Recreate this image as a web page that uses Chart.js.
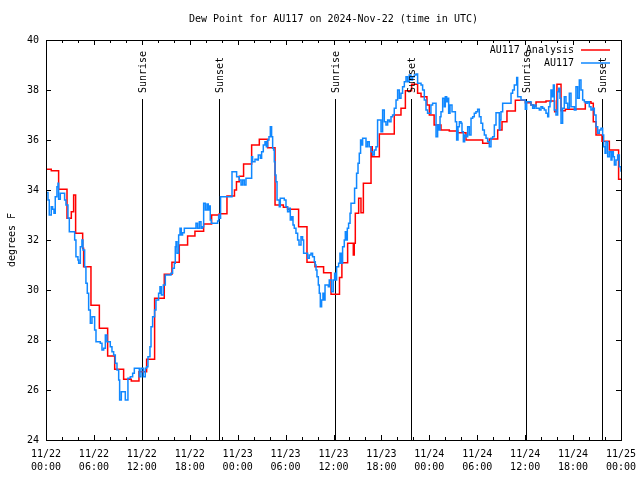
<!DOCTYPE html>
<html>
<head>
<meta charset="utf-8">
<title>Dew Point for AU117</title>
<script src="https://cdn.jsdelivr.net/npm/chart.js@4.4.1/dist/chart.umd.min.js"></script>
<style>
  html, body { margin: 0; padding: 0; background: #fff; }
</style>
</head>
<body>
<canvas id="dewChart" width="640" height="480"></canvas>
<script>
// Horas desde 11/22 00:00 UTC y punto de rocio (F) del analisis
const analysisHours = [0, 0.66, 1.58, 2.63, 3.17, 3.46, 3.71, 4.59, 4.71, 5.63, 6.68, 7.72, 8.6, 9.72, 10.68, 11.64,
  12.6, 13.6, 14.81, 15.77, 16.69, 17.73, 18.65, 19.74, 20.74, 21.7, 22.66, 23.6, 23.85, 24.2, 24.74, 25.75,
  26.71, 27.75, 28.68, 29.72, 30.25, 31.63, 32.68, 33.68, 34.76, 35.69, 36.75, 37.05, 37.77, 38.48, 38.6,
  38.73, 39.15, 39.44, 39.74, 40.7, 40.85, 41.74, 43.61, 44.45, 45.0, 45.78, 46.53, 46.96, 47.7, 48.0, 48.6,
  49.46, 50.5, 51.55, 52.59, 54.68, 55.51, 56.56, 57.1, 57.72, 58.77, 60.02, 60.73, 61.02, 61.36, 62.61,
  63.69, 63.98, 64.49, 65.03, 66.36, 67.53, 68.24, 68.53, 68.87, 69.62, 70.54, 71.7, 72];
const analysisDew = [34.83, 34.77, 34.03, 32.87, 33.13, 33.8, 32.27, 31.67, 30.93, 29.39, 28.47, 27.36, 26.83, 26.43, 26.36, 26.73,
  27.23, 29.67, 30.63, 31.11, 31.8, 32.16, 32.35, 32.64, 33.0, 33.05, 33.76, 34.0, 34.33, 34.55, 35.04, 35.8,
  36.03, 35.69, 33.4, 33.31, 33.23, 32.53, 31.11, 30.93, 30.69, 29.83, 30.5, 31.09, 31.87, 31.4, 31.87,
  33.07, 33.67, 33.09, 34.27, 35.73, 35.33, 36.24, 37.0, 37.27, 37.97, 38.23, 37.87, 37.73, 37.4, 37.0, 36.6,
  36.4, 36.36, 36.29, 36.0, 35.87, 36.04, 36.4, 36.73, 37.16, 37.59, 37.49, 37.4, 37.36, 37.52, 37.56,
  37.13, 38.23, 37.17, 37.23, 37.24, 37.53, 37.47, 36.73, 36.2, 35.95, 35.6, 34.43, 34.43];

// Observaciones de la estacion AU117
const obsHours = [0, 0.25, 0.41, 0.66, 0.83, 1.0, 1.16, 1.37, 1.5, 1.58, 1.79, 2.33, 2.5, 2.75, 2.92, 3.59, 3.75, 4.0, 4.09,
  4.3, 4.5, 4.63, 4.84, 5.0, 5.17, 5.34, 5.55, 5.76, 6.09, 6.26, 6.8, 7.01, 7.22, 7.43, 7.63, 8.05, 8.26, 8.47,
  8.68, 8.89, 9.1, 9.22, 9.43, 9.93, 10.26, 10.56, 10.85, 11.06, 11.68, 11.89, 12.18, 12.43, 12.6, 12.77, 13.02,
  13.15, 13.35, 13.6, 13.77, 14.1, 14.27, 14.44, 14.69, 14.94, 15.65, 15.85, 16.07, 16.19, 16.28, 16.4, 16.61,
  16.78, 16.94, 17.1, 17.32, 18.78, 18.98, 19.2, 19.41, 19.6, 19.74, 19.95, 20.16, 20.32, 20.45, 20.57, 20.7,
  21.49, 21.62, 21.7, 21.86, 23.29, 23.87, 24.2, 24.42, 24.62, 24.83, 25.04, 25.75, 25.87, 26.17, 26.42, 26.58,
  26.84, 27.0, 27.21, 27.42, 27.59, 27.75, 27.92, 28.09, 28.25, 28.38, 28.5, 28.59, 28.68, 28.8, 28.93, 29.21,
  29.34, 29.84, 30.05, 30.25, 30.47, 30.59, 30.76, 30.93, 31.09, 31.3, 31.51, 31.68, 31.93, 32.13, 32.26, 32.76,
  32.97, 33.18, 33.38, 33.6, 33.72, 33.81, 33.93, 34.1, 34.22, 34.35, 34.51, 34.68, 34.85, 34.94, 35.35, 35.47,
  35.76, 35.98, 36.14, 36.31, 36.39, 36.64, 36.81, 36.98, 37.14, 37.35, 37.48, 37.57, 37.73, 37.89, 38.07, 38.19,
  38.64, 38.89, 39.07, 39.23, 39.39, 39.57, 39.65, 40.07, 40.27, 40.48, 40.7, 40.9, 41.11, 41.32, 41.52, 41.95,
  42.15, 42.36, 42.57, 42.78, 42.99, 43.2, 43.4, 43.61, 43.83, 44.03, 44.24, 44.45, 44.65, 44.87, 45.08, 45.28,
  45.49, 45.7, 45.9, 46.12, 46.33, 46.53, 46.96, 47.16, 47.37, 47.58, 47.78, 48.2, 48.41, 48.84, 49.04, 49.17,
  49.34, 49.46, 49.67, 49.88, 50.0, 50.17, 50.3, 50.42, 50.59, 50.84, 51.26, 51.42, 51.59, 51.76, 51.97, 52.09,
  52.26, 52.42, 52.59, 52.8, 53.01, 53.22, 53.43, 53.63, 53.84, 54.05, 54.26, 54.47, 54.68, 54.89, 55.1, 55.3,
  55.51, 55.72, 55.93, 56.14, 56.35, 56.76, 56.85, 56.97, 57.18, 58.23, 58.43, 58.64, 58.94, 59.06, 59.48,
  60.02, 60.19, 60.73, 60.94, 61.15, 61.36, 61.77, 61.98, 62.19, 62.4, 62.61, 62.82, 62.94, 63.11, 63.23, 63.36,
  63.53, 63.65, 63.86, 64.07, 64.19, 64.36, 64.49, 64.69, 64.9, 65.11, 65.32, 65.53, 65.74, 66.16, 66.36, 66.57,
  66.78, 66.99, 67.2, 67.41, 67.62, 67.82, 68.03, 68.24, 68.45, 68.66, 68.87, 69.08, 69.29, 69.49, 69.7, 69.83,
  70.0, 70.12, 70.33, 70.54, 70.75, 70.87, 71.04, 71.17, 71.37, 71.58, 71.79, 72.0];
const obsDew = [33.9, 33.6, 33.0, 33.33, 33.23, 33.07, 33.73, 34.13, 34.27, 33.63, 33.87, 33.6, 33.4, 32.87, 32.33, 32.0, 31.33, 31.2, 31.07,
  31.73, 32.0, 31.6, 30.93, 30.27, 29.87, 29.2, 28.67, 28.93, 28.4, 27.93, 27.87, 27.6, 27.67, 28.2, 27.93, 27.73, 27.53, 27.4,
  27.07, 26.8, 26.4, 25.6, 25.93, 25.6, 26.47, 26.53, 26.67, 26.87, 26.53, 26.87, 26.53, 26.87, 26.93, 27.33, 27.73,
  28.53, 28.93, 29.2, 29.6, 29.87, 30.13, 29.8, 30.2, 30.6, 30.67, 30.87, 31.07, 31.73, 31.93, 31.47, 32.2,
  32.47, 32.2, 32.29, 32.47, 32.67, 32.47, 32.73, 32.47, 32.53, 33.47, 33.2, 33.44, 33.2, 33.36, 32.8, 32.67,
  32.76, 33.0, 32.87, 33.73, 34.73, 34.53, 34.4, 34.2, 34.4, 34.2, 34.47, 35.33, 35.13, 35.23, 35.2, 35.4,
  35.27, 35.53, 35.8, 35.93, 35.73, 36.0, 36.13, 36.53, 36.13, 35.67, 35.6, 35.13, 34.6, 34.33, 33.6, 33.33,
  33.67, 33.6, 33.33, 33.13, 33.27, 32.8, 32.93, 32.6, 32.47, 32.27, 32.0, 31.8, 32.13, 32.0, 31.47, 31.27,
  31.4, 31.47, 31.33, 31.13, 31.0, 30.8, 30.53, 30.2, 29.87, 29.33, 29.6, 29.87, 29.6, 30.2, 30.13, 30.4,
  29.93, 30.4, 30.67, 30.4, 30.93, 31.07, 31.47, 31.07, 31.73, 32.0, 32.33, 32.0, 32.47, 32.67, 33.07, 33.47,
  34.07, 34.67, 35.07, 35.47, 36.0, 35.8, 36.07, 35.73, 35.93, 35.73, 35.53, 35.4, 35.6, 35.73, 36.8, 36.33,
  37.2, 36.73, 36.6, 36.8, 36.73, 36.93, 37.0, 37.27, 37.6, 38.0, 37.67, 37.87, 38.13, 38.33, 38.53, 38.33,
  38.6, 38.4, 38.53, 38.6, 38.64, 38.27, 38.2, 38.0, 37.6, 37.2, 37.07, 37.4, 37.47, 36.13, 36.6, 36.4,
  36.93, 37.13, 37.67, 37.33, 37.73, 37.53, 37.67, 37.07, 37.4, 37.13, 36.73, 36.0, 36.53, 36.73, 36.67, 36.33,
  35.93, 36.2, 36.13, 36.53, 36.2, 36.87, 36.93, 37.07, 37.13, 37.23, 36.93, 36.67, 36.4, 36.2, 36.07, 35.93,
  35.73, 36.07, 36.13, 36.6, 37.09, 36.4, 36.8, 37.13, 37.47, 37.87, 38.0, 38.2, 38.5, 37.73, 37.6,
  37.23, 37.53, 37.4, 37.27, 37.4, 37.27, 37.2, 37.33, 37.27, 37.2, 37.07, 36.93, 37.33, 37.53, 38.0, 37.73,
  38.2, 37.2, 37.0, 37.93, 38.07, 37.67, 36.67, 37.27, 37.73, 37.47, 37.27, 37.87, 37.33, 37.2, 38.13, 37.67,
  38.4, 38.0, 37.6, 37.53, 37.47, 37.53, 37.33, 37.2, 37.27, 37.0, 36.53, 36.27, 36.4, 36.47, 36.2, 35.73,
  35.47, 35.93, 35.33, 35.53, 35.2, 35.53, 35.33, 35.0, 35.2, 35.4, 34.93, 34.73];

// Salida y puesta del sol (horas desde 11/22 00:00)
const sunHours = [12.06, 21.6, 36.14, 45.65, 60.06, 69.57];
const sunLabels = ['Sunrise', 'Sunset', 'Sunrise', 'Sunset', 'Sunrise', 'Sunset'];

// Etiquetas de los ejes
const dayLabels = ['11/22', '11/23', '11/24', '11/25'];
const yTicks = [24, 26, 28, 30, 32, 34, 36, 38, 40];

const FONT = '10px "DejaVu Sans Mono"';
const RED = '#ff0000';
const BLUE = 'rgb(16,136,255)';

// Plugin para dibujar el marco estilo gnuplot, lineas de sol, leyenda y titulos
const gnuplotFrame = {
  id: 'gnuplotFrame',
  beforeDatasetsDraw(chart) {
    const { ctx, chartArea: a, scales: { x } } = chart;
    ctx.save();
    ctx.strokeStyle = '#000';
    ctx.lineWidth = 1;
    sunHours.forEach(h => {
      const px = Math.round(x.getPixelForValue(h)) + 0.5;
      ctx.beginPath();
      ctx.moveTo(px, a.top + 59);
      ctx.lineTo(px, a.bottom);
      ctx.stroke();
    });
    ctx.restore();
  },
  afterDraw(chart) {
    const { ctx, chartArea: a, scales: { x, y } } = chart;
    ctx.save();
    ctx.strokeStyle = '#000';
    ctx.fillStyle = '#000';
    ctx.lineWidth = 1;

    // marco
    ctx.strokeRect(a.left + 0.5, a.top + 0.5, a.right - a.left, a.bottom - a.top);

    // marcas del eje X (mayores cada 6 h, menores cada 2 h)
    ctx.beginPath();
    for (let h = 0; h <= 72; h += 2) {
      const px = Math.round(x.getPixelForValue(h)) + 0.5;
      const len = h % 6 === 0 ? 5 : 3;
      ctx.moveTo(px, a.bottom); ctx.lineTo(px, a.bottom - len);
      ctx.moveTo(px, a.top); ctx.lineTo(px, a.top + len);
    }
    // marcas del eje Y
    yTicks.forEach(v => {
      const py = Math.round(y.getPixelForValue(v)) + 0.5;
      ctx.moveTo(a.left, py); ctx.lineTo(a.left + 5, py);
      ctx.moveTo(a.right, py); ctx.lineTo(a.right - 5, py);
    });
    ctx.stroke();

    ctx.font = FONT;

    // etiquetas Sunrise / Sunset
    sunHours.forEach((h, i) => {
      const px = Math.round(x.getPixelForValue(h)) + 1;
      ctx.save();
      ctx.translate(px, a.top + 53);
      ctx.rotate(-Math.PI / 2);
      ctx.textAlign = 'left';
      ctx.textBaseline = 'middle';
      ctx.fillText(sunLabels[i], 0, 0);
      ctx.restore();
    });

    // leyenda
    const legendItems = [['AU117 Analysis', RED], ['AU117', BLUE]];
    legendItems.forEach(([label, color], i) => {
      const ly = a.top + 10 + i * 13;
      ctx.textAlign = 'right';
      ctx.textBaseline = 'middle';
      ctx.fillStyle = '#000';
      ctx.fillText(label, a.right - 47, ly);
      ctx.strokeStyle = color;
      ctx.lineWidth = 1.5;
      ctx.beginPath();
      ctx.moveTo(a.right - 40, ly);
      ctx.lineTo(a.right - 11, ly);
      ctx.stroke();
    });

    // titulo
    ctx.fillStyle = '#000';
    ctx.textAlign = 'center';
    ctx.textBaseline = 'middle';
    ctx.fillText('Dew Point for AU117 on 2024-Nov-22 (time in UTC)', (a.left + a.right) / 2, 19);

    // titulo del eje Y
    ctx.save();
    ctx.translate(12, (a.top + a.bottom) / 2);
    ctx.rotate(-Math.PI / 2);
    ctx.fillText('degrees F', 0, 0);
    ctx.restore();

    ctx.restore();
  }
};

const ctxDew = document.getElementById('dewChart').getContext('2d');

const dewChart = new Chart(ctxDew, {
  type: 'line',
  data: {
    datasets: [
      {
        label: 'AU117',
        data: obsHours.map((h, i) => ({ x: h, y: obsDew[i] })),
        borderColor: BLUE,
        borderWidth: 1.5,
        pointRadius: 0,
        stepped: true,
        order: 0
      },
      {
        label: 'AU117 Analysis',
        data: analysisHours.map((h, i) => ({ x: h, y: analysisDew[i] })),
        borderColor: RED,
        borderWidth: 1.5,
        pointRadius: 0,
        stepped: true,
        order: 1
      }
    ]
  },
  options: {
    responsive: false,
    animation: false,
    devicePixelRatio: 1,
    layout: { padding: { top: 40, right: 19, bottom: 0, left: 0 } },
    plugins: {
      legend: { display: false },
      title: { display: false },
      tooltip: { enabled: false }
    },
    scales: {
      x: {
        type: 'linear',
        min: 0,
        max: 72,
        grid: { display: false, drawTicks: false },
        border: { display: false },
        ticks: {
          stepSize: 6,
          autoSkip: false,
          maxRotation: 0,
          padding: 8,
          color: '#000',
          font: { family: 'DejaVu Sans Mono', size: 10, lineHeight: 1.3 },
          callback: v => [dayLabels[Math.floor(v / 24)], String(v % 24).padStart(2, '0') + ':00']
        },
        afterFit: s => { s.height = 40; s.paddingLeft = 0; s.paddingRight = 0; }
      },
      y: {
        min: 24,
        max: 40,
        grid: { display: false, drawTicks: false },
        border: { display: false },
        ticks: {
          stepSize: 2,
          padding: 7,
          color: '#000',
          font: { family: 'DejaVu Sans Mono', size: 10 }
        },
        afterFit: s => { s.width = 46; s.paddingTop = 0; s.paddingBottom = 0; }
      }
    }
  },
  plugins: [gnuplotFrame]
});
</script>
</body>
</html>
